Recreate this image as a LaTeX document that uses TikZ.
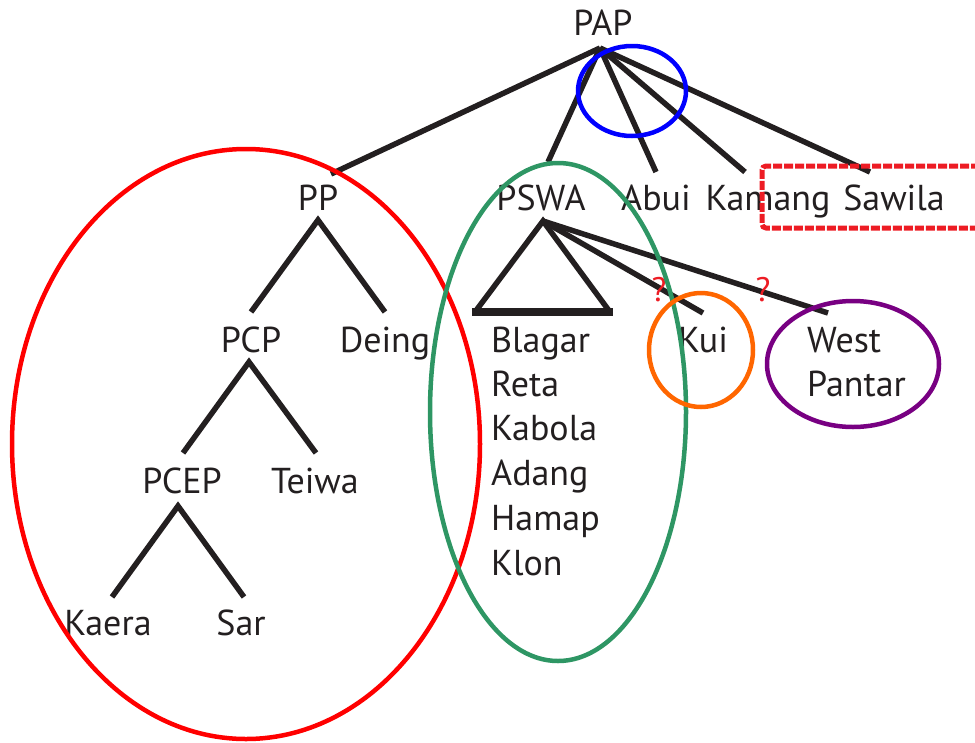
\documentclass[tikz,border=0pt]{standalone}
\usepackage{fontspec}
\setmainfont{PT Sans}
\definecolor{ink}{RGB}{35,31,32}
\definecolor{grn}{RGB}{46,150,100}
\definecolor{org}{RGB}{255,102,0}
\definecolor{pur}{RGB}{120,0,130}
\definecolor{dred}{RGB}{237,28,36}
\begin{document}
\begin{tikzpicture}[x=1pt,y=-1pt,
  lbl/.style={font=\fontsize{36}{42}\selectfont, text=ink, anchor=base, inner sep=0pt},
  lbll/.style={lbl, anchor=base west},
  br/.style={draw=ink, line width=5.5pt},
  ring/.style={line width=4.5pt},
  qm/.style={font=\fontsize{34}{36}\selectfont, text=dred, anchor=base, inner sep=0pt}]
\useasboundingbox (0,0) rectangle (975,742);
% labels
\node[lbl] (PAP) at (603,35) {PAP};
\node[lbl] (PP) at (318,210) {PP};
\node[lbl] (PSWA) at (541,210) {PSWA};
\node[lbl] (Abui) at (656,210) {Abui};
\node[lbl] (Kamang) at (768,210) {Kamang};
\node[lbl] (Sawila) at (894,210) {Sawila};
\node[lbl] (PCP) at (251,352) {PCP};
\node[lbl] (Deing) at (385,352) {Deing};
\node[lbl] (PCEP) at (182,493) {PCEP};
\node[lbl] (Teiwa) at (315,493) {Teiwa};
\node[lbl] (Kaera) at (108,635) {Kaera};
\node[lbl] (Sar) at (241,635) {Sar};
\node[lbl] (Kui) at (703,352) {Kui};
\node[lbll] (Blagar) at (491,352) {Blagar};
\node[lbll] (Reta) at (491,396) {Reta};
\node[lbll] (Kabola) at (491,440) {Kabola};
\node[lbll] (Adang) at (491,485) {Adang};
\node[lbll] (Hamap) at (491,530) {Hamap};
\node[lbll] (Klon) at (491,575) {Klon};
\node[lbll] (West) at (807,352) {West};
\node[lbll] (Pantar) at (807,396) {Pantar};
% branch points
\coordinate (aPAP) at (600,48);
\coordinate (ePP) at (331,174);
\coordinate (ePSWA) at (548,162);
\coordinate (eAbui) at (656,172);
\coordinate (eKamang) at (745,172);
\coordinate (eSawila) at (870,172);
\coordinate (aPP) at (318,220);
\coordinate (ePCP) at (251,312);
\coordinate (eDeing) at (385,312);
\coordinate (aPCP) at (249,362);
\coordinate (ePCEP) at (183,453);
\coordinate (eTeiwa) at (316,453);
\coordinate (aPCEP) at (178,506);
\coordinate (eKaera) at (112,597);
\coordinate (eSar) at (244,597);
\coordinate (aPSWA) at (543,221);
\coordinate (tL) at (475,312);
\coordinate (tR) at (610,312);
\coordinate (eKui) at (703,313);
\coordinate (eWP) at (828,313);
% branches
\foreach \e in {ePP,ePSWA,eAbui,eKamang,eSawila} \draw[br] (aPAP) -- (\e);
\draw[br] (ePCP) -- (aPP) -- (eDeing);
\draw[br] (ePCEP) -- (aPCP) -- (eTeiwa);
\draw[br] (eKaera) -- (aPCEP) -- (eSar);
\draw[br, line join=miter] (tL) -- (aPSWA) -- (tR);
\draw[draw=ink, line width=8pt] ([xshift=-3pt]tL) -- ([xshift=3pt]tR);
\draw[br] (aPSWA) -- (eKui);
\draw[br] (aPSWA) -- (eWP);
\node[qm] (q1) at (659,301) {?};
\node[qm] (q2) at (763,301) {?};
% rings
\draw[ring, red] (246,444) ellipse [x radius=234, y radius=295];
\draw[ring, grn] (558,412) ellipse [x radius=128, y radius=249];
\draw[ring, blue] (632,91) ellipse [x radius=54, y radius=45];
\draw[ring, org] (701,350) ellipse [x radius=52, y radius=57];
\draw[ring, pur] (853,364) ellipse [x radius=86, y radius=63];
\draw[dred, line width=5pt, dash pattern=on 9pt off 2pt, rounded corners=4pt]
  (980,166) -- (762,166) -- (762,228) -- (980,228);
\end{tikzpicture}
\end{document}
